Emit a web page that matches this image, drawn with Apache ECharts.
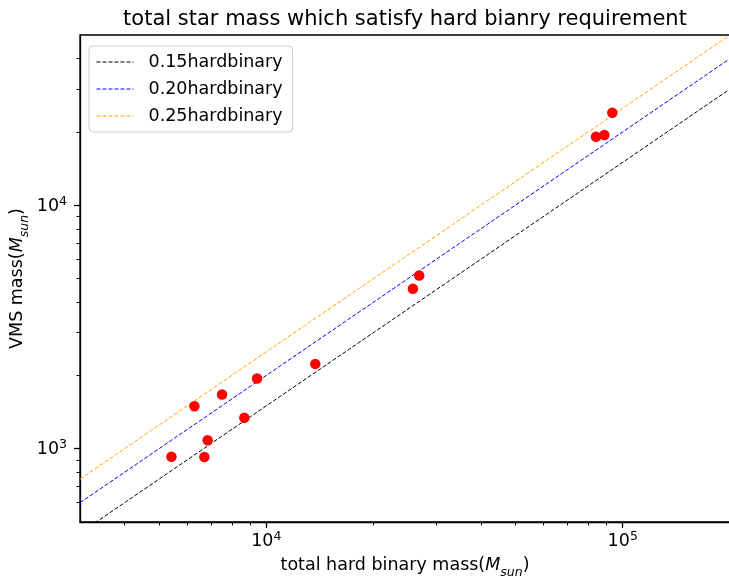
<!DOCTYPE html>
<html><head><meta charset="utf-8">
<script src="https://cdn.jsdelivr.net/npm/echarts@6/dist/echarts.min.js"></script>
<style>html,body{margin:0;padding:0;background:#fff}#c{width:729px;height:579px}</style>
</head><body><div id="c"></div>
<script>
const hardBinaryMass = [5416, 6701, 6844, 6282, 7511, 8675, 9417, 13720, 26850, 25780, 93500, 84170, 88800];
const vmsMass = [927, 924, 1084, 1495, 1669, 1340, 1942, 2230, 5146, 4539, 23960, 19100, 19410];
const ratios = [0.15, 0.20, 0.25];
const ratioNames = ['0.15hardbinary', '0.20hardbinary', '0.25hardbinary'];
const ratioColors = ['#000000', '#0000ff', '#ffa500'];
const lineXRange = [3000, 200000];
const xMajorTicks = [10000, 100000];
const xMinorTicks = [4000, 5000, 6000, 7000, 8000, 9000, 20000, 30000, 40000, 50000, 60000, 70000, 80000, 90000];
const yMajorTicks = [1000, 10000];
const yMinorTicks = [600, 700, 800, 900, 2000, 3000, 4000, 5000, 6000, 7000, 8000, 9000, 20000, 30000, 40000];

const FONT = 'DejaVu Sans';
const chart = echarts.init(document.getElementById('c'), null, {renderer: 'canvas'});

const supRich = {
  b: {fontSize: 17.5, fontFamily: FONT, color: '#000', lineHeight: 20, verticalAlign: 'bottom'},
  s: {fontSize: 12.5, fontFamily: FONT, color: '#000', lineHeight: 14, verticalAlign: 'top'}
};
const nameRich = {
  n: {fontSize: 17.5, fontFamily: FONT, color: '#000', lineHeight: 20, verticalAlign: 'top'},
  i: {fontSize: 17.5, fontFamily: FONT, color: '#000', fontStyle: 'italic', lineHeight: 20, verticalAlign: 'top'},
  u: {fontSize: 12.5, fontFamily: FONT, color: '#000', fontStyle: 'italic', lineHeight: 13, padding: [10, 0, 0, 0], verticalAlign: 'top'}
};
const supFmt = v => '{b|10}{s|' + Math.round(Math.log10(v)) + '}';

function mainAxis(isX) {
  return {
    type: 'log', logBase: 10,
    min: isX ? 3000 : 500, max: isX ? 200000 : 50000,
    position: isX ? 'bottom' : 'left',
    name: isX ? '{n|total hard binary mass(}{i|M}{u|sun}{n|)}' : '{n|VMS mass(}{i|M}{u|sun}{n|)}',
    nameLocation: 'middle', nameGap: isX ? 34 : 52,
    nameMoveOverlap: false,
    nameTextStyle: {rich: nameRich},
    axisLine: {show: true, lineStyle: {color: '#000', width: 1.3}},
    axisTick: {show: true, inside: false, length: 6, lineStyle: {color: '#000', width: 1.3}, customValues: isX ? xMajorTicks : yMajorTicks},
    axisLabel: {show: true, margin: isX ? 8 : 13, formatter: supFmt, rich: supRich, customValues: isX ? xMajorTicks : yMajorTicks},
    splitLine: {show: false}, minorTick: {show: false}, minorSplitLine: {show: false}
  };
}
function minorAxis(isX) {
  return {
    type: 'log', logBase: 10,
    min: isX ? 3000 : 500, max: isX ? 200000 : 50000,
    position: isX ? 'bottom' : 'left', offset: 0,
    axisLine: {show: false},
    axisTick: {show: true, inside: false, length: 3.5, lineStyle: {color: '#000', width: 1}, customValues: isX ? xMinorTicks : yMinorTicks},
    axisLabel: {show: false},
    splitLine: {show: false}
  };
}

const lineSeries = ratios.map((r, k) => ({
  name: ratioNames[k],
  type: 'line',
  xAxisIndex: 0, yAxisIndex: 0,
  data: lineXRange.map(x => [x, r * x]),
  symbol: 'none', showSymbol: false,
  clip: true, silent: true, animation: false,
  lineStyle: {color: ratioColors[k], width: 1, type: [4, 2]},
  itemStyle: {color: ratioColors[k]},
  z: 2
}));

chart.setOption({
  animation: false,
  backgroundColor: '#fff',
  textStyle: {fontFamily: FONT},
  title: {
    text: 'total star mass which satisfy hard bianry requirement',
    left: 405, top: 9, textAlign: 'center', padding: 0,
    textStyle: {fontFamily: FONT, fontSize: 21, fontWeight: 'normal', color: '#000'}
  },
  grid: {left: 80, top: 35, width: 650, height: 487, show: true, borderColor: '#000', borderWidth: 1.3, backgroundColor: 'transparent', containLabel: false, outerBoundsMode: 'none'},
  legend: {
    data: ratioNames,
    orient: 'vertical', left: 89, top: 46,
    padding: [6, 10, 6, 7],
    itemWidth: 37, itemHeight: 14, itemGap: 7,
    itemStyle: {opacity: 0},
    lineStyle: {width: 1},
    backgroundColor: 'rgba(255,255,255,0.8)', borderColor: '#cccccc', borderWidth: 1, borderRadius: 4,
    textStyle: {fontFamily: FONT, fontSize: 17.5, color: '#000', lineHeight: 20, padding: [0, 0, 0, 10]},
    selectedMode: false
  },
  xAxis: [mainAxis(true), minorAxis(true)],
  yAxis: [mainAxis(false), minorAxis(false)],
  series: lineSeries.concat([{
    name: 'VMS',
    type: 'scatter',
    xAxisIndex: 0, yAxisIndex: 0,
    data: hardBinaryMass.map((x, i) => [x, vmsMass[i]]),
    symbol: 'circle', symbolSize: 10.5,
    itemStyle: {color: '#ff0000', opacity: 1},
    z: 3, silent: true
  }])
});
</script>
</body></html>
